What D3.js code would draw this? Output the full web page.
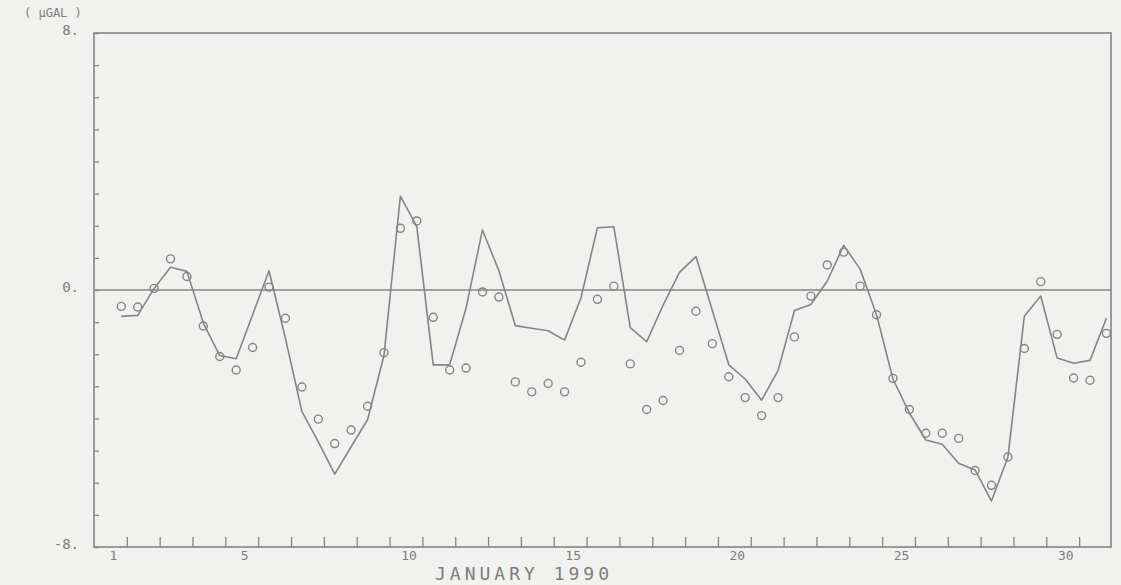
<!DOCTYPE html>
<html>
<head>
<meta charset="utf-8">
<script src="https://cdn.jsdelivr.net/npm/d3@7"></script>
<style>
  body { margin: 0; background: #f1f1ef; }
  text { font-family: "DejaVu Sans Mono", monospace; fill: #7d7d7d; }
</style>
</head>
<body>
<svg id="chart" width="1121" height="585"></svg>
<script>
// observed gravity residuals (circles), every 12 hours from Jan 1 20h
const observed = [-0.51, -0.53, 0.05, 0.97, 0.42, -1.12, -2.07, -2.49, -1.79, 0.09,
  -0.88, -3.02, -4.02, -4.78, -4.36, -3.62, -1.95, 1.92, 2.15, -0.85,
  -2.49, -2.43, -0.06, -0.22, -2.86, -3.17, -2.91, -3.17, -2.25, -0.29,
  0.12, -2.30, -3.72, -3.44, -1.88, -0.66, -1.67, -2.70, -3.35, -3.91,
  -3.35, -1.46, -0.19, 0.78, 1.18, 0.12, -0.77, -2.75, -3.72, -4.46,
  -4.46, -4.62, -5.62, -6.08, -5.20, -1.82, 0.26, -1.38, -2.74, -2.81, -1.35];

// computed (line)
const computed = [-0.82, -0.79, 0.05, 0.71, 0.58, -1.03, -2.04, -2.14, -0.77, 0.60,
  -1.51, -3.78, -4.73, -5.73, -4.88, -4.04, -2.04, 2.92, 1.97, -2.33,
  -2.33, -0.56, 1.87, 0.60, -1.11, -1.19, -1.27, -1.56, -0.24, 1.94,
  1.97, -1.17, -1.61, -0.47, 0.55, 1.04, -0.64, -2.33, -2.77, -3.43,
  -2.51, -0.64, -0.45, 0.28, 1.39, 0.65, -0.77, -2.77, -3.83, -4.67,
  -4.80, -5.39, -5.60, -6.57, -5.20, -0.82, -0.19, -2.12, -2.28, -2.19, -0.88];

const dayLabels = [1, 5, 10, 15, 20, 25, 30];
const yLabels = [8, 0, -8];

// sample times in days since Jan 1 0h
const startDay = 0.83, stepDay = 0.5;
const times = observed.map((d, i) => startDay + i * stepDay);

const margin = {top: 33, right: 10, bottom: 39, left: 94};
const fullWidth = 1121, fullHeight = 585;
const width = fullWidth - margin.left - margin.right;
const height = fullHeight - margin.top - margin.bottom;
const ink = '#858585';

const svg = d3.select('#chart');
const g = svg.append('g')
  .attr('transform', 'translate(' + margin.left + ',' + margin.top + ')');

const x = d3.scaleLinear().domain([0, 31]).range([0, width + 1]);
const y = d3.scaleLinear().domain([-8, 8]).range([height + 1, 0]);

// frame
g.append('rect')
  .attr('x', 0).attr('y', 0)
  .attr('width', width).attr('height', height + 1)
  .attr('fill', 'none')
  .attr('stroke', ink)
  .attr('stroke-width', 1.6);

// zero line
g.append('line')
  .attr('x1', 0).attr('x2', width)
  .attr('y1', y(0)).attr('y2', y(0))
  .attr('stroke', ink)
  .attr('stroke-width', 1.6);

// y ticks, inside
const yAxis = d3.axisRight(y)
  .tickValues(d3.range(-8, 9))
  .tickSize(5)
  .tickFormat('');
g.append('g').call(yAxis)
  .call(a => a.select('.domain').remove())
  .selectAll('line').attr('stroke', ink).attr('stroke-width', 1.3);

// x ticks at day boundaries, pointing up
const xAxis = d3.axisTop(x)
  .tickValues(d3.range(1, 31))
  .tickSize(10)
  .tickFormat('');
g.append('g')
  .attr('transform', 'translate(0,' + (height + 1) + ')')
  .call(xAxis)
  .call(a => a.select('.domain').remove())
  .selectAll('line').attr('stroke', ink).attr('stroke-width', 1.3);

// y labels
g.selectAll('.ylab')
  .data(yLabels)
  .join('text')
  .attr('class', 'ylab')
  .attr('x', -15)
  .attr('y', d => y(d) + 2)
  .attr('text-anchor', 'end')
  .style('font-size', '14px')
  .text(d => d + '.');

svg.append('text')
  .attr('x', 24).attr('y', 17)
  .style('font-size', '12px')
  .text('( \u03bcGAL )');

// day labels, centred on each day
g.selectAll('.xlab')
  .data(dayLabels)
  .join('text')
  .attr('class', 'xlab')
  .attr('x', d => x(d - 0.5) + 3)
  .attr('y', height + 14)
  .attr('text-anchor', 'middle')
  .style('font-size', '13px')
  .text(d => d);

svg.append('text')
  .attr('x', 524)
  .attr('y', 580)
  .attr('text-anchor', 'middle')
  .style('font-size', '18px')
  .style('letter-spacing', '4px')
  .text('JANUARY 1990');

// computed line
const line = d3.line()
  .x((d, i) => x(times[i]))
  .y(d => y(d));

g.append('path')
  .datum(computed)
  .attr('d', line)
  .attr('fill', 'none')
  .attr('stroke', ink)
  .attr('stroke-width', 1.6)
  .attr('stroke-linejoin', 'round');

// observed circles
g.selectAll('.obs')
  .data(observed)
  .join('circle')
  .attr('class', 'obs')
  .attr('cx', (d, i) => x(times[i]))
  .attr('cy', d => y(d))
  .attr('r', 4)
  .attr('fill', 'none')
  .attr('stroke', ink)
  .attr('stroke-width', 1.4);
</script>
</body>
</html>
